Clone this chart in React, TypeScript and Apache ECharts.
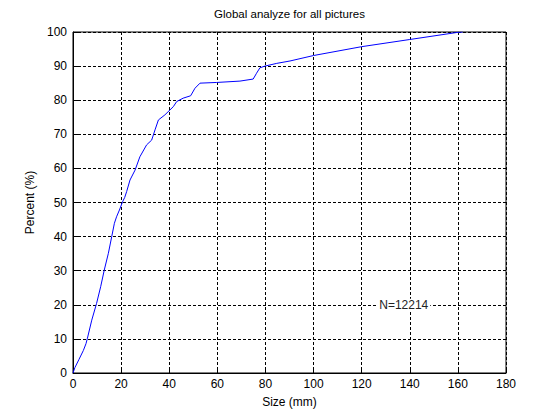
import React, { useEffect, useRef } from "react";
import * as echarts from "echarts";

const sizeMm = [0, 0.8, 2.5, 4.3, 5.4, 6, 7.8, 9.8, 11.5, 13, 14.7, 16.1, 17.2, 18.1, 19.3, 20.6, 21.5, 22.3, 23.7, 25.8, 27.8, 30.6, 32.7, 34.1, 35.5, 38.2, 41.7, 43.1, 45.8, 48.9, 50.7, 52.8, 59.7, 69.4, 74.9, 76.3, 77.7, 79.8, 84.7, 90.2, 100, 120, 140, 160, 162];
const percent = [0, 1.6, 4.0, 6.6, 8.6, 10.2, 15.5, 20.4, 25.3, 30.2, 35.1, 40, 43.9, 45.8, 47.8, 50.2, 51.5, 53.2, 56.6, 59.5, 63.4, 66.9, 68.3, 71.3, 74.2, 75.7, 78.1, 79.6, 80.6, 81.3, 83.5, 85, 85.2, 85.6, 86.2, 87.9, 89.5, 90, 90.8, 91.5, 93.1, 95.7, 97.8, 99.9, 100];
const annotation = { x: 137.5, y: 20, text: "N=12214" };
const titleText = "Global analyze for all pictures";
const xName = "Size (mm)";
const yName = "Percent (%)";

const FONT = "Liberation Sans, Arial, sans-serif";

export default function App() {
  const ref = useRef<HTMLDivElement>(null);
  useEffect(() => {
    if (!ref.current) return;
    const chart = echarts.init(ref.current, undefined, { renderer: "svg" });
    const splitLine = { show: true, lineStyle: { color: "#000", type: [3, 2] as any, width: 1 } };
    const axisCommon = {
      axisLine: { show: true, lineStyle: { color: "#000", width: 1 } },
      axisTick: { show: true, inside: true, length: 5, lineStyle: { color: "#000" } },
      axisLabel: { color: "#000", fontSize: 12, fontFamily: FONT },
      nameTextStyle: { color: "#000", fontSize: 12, fontFamily: FONT },
      splitLine,
    };
    chart.setOption({
      animation: false,
      backgroundColor: "#fff",
      title: {
        text: titleText,
        left: 289.5,
        textAlign: "center",
        top: 8,
        padding: 0,
        textStyle: { color: "#000", fontSize: 11.5, fontWeight: "normal", fontFamily: FONT },
      },
      grid: { left: 73, right: 52, top: 32, bottom: 46, show: true, borderColor: "#000", borderWidth: 1, backgroundColor: "#fff" },
      xAxis: {
        type: "value",
        min: 0,
        max: 180,
        interval: 20,
        name: xName,
        nameLocation: "middle",
        nameGap: 23,
        ...axisCommon,
        axisLabel: { ...axisCommon.axisLabel, margin: 5 },
      },
      yAxis: {
        type: "value",
        min: 0,
        max: 100,
        interval: 10,
        name: yName,
        nameLocation: "middle",
        nameGap: 34,
        ...axisCommon,
        axisLabel: { ...axisCommon.axisLabel, margin: 6 },
      },
      series: [
        {
          type: "line",
          data: sizeMm.map((x, i) => [x, percent[i]]),
          showSymbol: false,
          symbol: "none",
          lineStyle: { color: "#0000ff", width: 1 },
          z: 5,
          markPoint: {
            symbol: "rect",
            symbolSize: 0,
            data: [
              {
                coord: [annotation.x, annotation.y],
                label: {
                  show: true,
                  formatter: annotation.text,
                  color: "#222",
                  fontSize: 12,
                  fontFamily: FONT,
                  backgroundColor: "#fff",
                  padding: [0, 2],
                  position: "inside",
                },
              },
            ],
          },
        },
      ],
    });
    return () => chart.dispose();
  }, []);
  return <div ref={ref} style={{ width: 558, height: 419, position: "absolute", left: 0, top: 0 }} />;
}
